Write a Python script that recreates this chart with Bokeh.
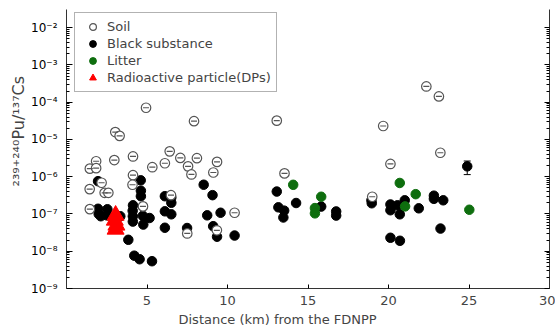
from bokeh.plotting import figure
from bokeh.models import (Range1d, LogAxis, FixedTicker, CustomJSTickFormatter, Legend,
                          LegendItem, Title, Whisker, ColumnDataSource, TeeHead)
from bokeh.embed import file_html
from bokeh.resources import INLINE

# ---- data (distance km, 239+240Pu/137Cs ratio) ----
soil_x = [4.94, 7.92, 13.06, 3.03, 3.30, 4.13, 2.97, 1.84, 1.45, 1.84,
          6.41, 7.07, 8.10, 6.11, 5.33, 7.55, 9.35, 9.12, 7.76, 4.13,
          4.10, 13.54, 2.18, 1.44, 2.37, 2.60, 1.45, 4.75, 10.44, 7.50,
          9.34, 6.49, 22.35, 23.13, 19.67, 23.22, 20.12, 18.99]
soil_y = [7.1e-5, 3.1e-5, 3.2e-5, 1.58e-5, 1.25e-5, 3.5e-6, 2.8e-6, 2.6e-6, 1.65e-6, 1.7e-6,
          4.8e-6, 3.2e-6, 3.15e-6, 2.3e-6, 1.8e-6, 1.9e-6, 2.5e-6, 1.3e-6, 1.15e-6, 1.1e-6,
          6.1e-7, 1.23e-6, 6.9e-7, 4.65e-7, 3.7e-7, 3.7e-7, 1.35e-7, 1.6e-7, 1.08e-7, 3.0e-8,
          3.65e-8, 3.2e-7, 2.65e-4, 1.43e-4, 2.3e-5, 4.4e-6, 2.2e-6, 2.9e-7]

black_x = [1.96, 1.96, 2.00, 2.13, 2.54, 2.50, 3.34, 3.84, 4.21, 4.54,
           5.31, 4.13, 4.11, 4.12, 4.12, 4.61, 4.62, 4.62, 4.74, 5.16,
           4.77, 6.11, 6.51, 6.51, 6.11, 6.51, 6.11, 7.49, 8.52, 9.07,
           8.74, 9.57, 9.11, 9.35, 10.44, 13.06, 13.16, 13.52, 13.47, 14.26,
           15.82, 16.75, 16.75, 18.94, 18.96, 20.12, 20.12, 20.56, 20.70, 21.01,
           21.88, 22.82, 22.82, 23.40, 23.23, 20.12, 20.71, 24.89]
black_y = [7.6e-7, 1.38e-7, 1.0e-7, 8.7e-8, 1.34e-7, 9.2e-8, 8.7e-8, 2.03e-8, 7.6e-9, 6.1e-9,
           5.4e-9, 1.71e-7, 1.22e-7, 8.7e-8, 6.25e-8, 8.0e-7, 4.2e-7, 3.0e-7, 8.95e-8, 7.8e-8,
           5.2e-8, 3.0e-7, 2.77e-7, 2.0e-7, 1.18e-7, 9.8e-8, 4.27e-8, 4.2e-8, 6.1e-7, 3.2e-7,
           9.2e-8, 1.08e-7, 4.7e-8, 2.45e-8, 2.64e-8, 4.0e-7, 1.51e-7, 1.23e-7, 8.05e-8, 1.97e-7,
           1.58e-7, 1.17e-7, 9.05e-8, 2.33e-7, 1.94e-7, 1.8e-7, 1.26e-7, 1.71e-7, 9.8e-8, 2.33e-7,
           1.42e-7, 3.1e-7, 2.55e-7, 2.33e-7, 4.06e-8, 2.3e-8, 1.91e-8, 1.9e-6]

litter_x = [14.08, 15.82, 15.43, 15.43, 20.70, 21.69, 21.03, 25.02]
litter_y = [6.07e-7, 2.9e-7, 1.44e-7, 1.04e-7, 6.8e-7, 3.4e-7, 1.6e-7, 1.3e-7]

dp_x = [3.05, 3.00, 3.10, 3.05]
dp_y = [9.2e-8, 6.8e-8, 5.0e-8, 3.9e-8]

err_x = [24.89]
err_lo = [1.14e-6]
err_hi = [2.64e-6]

x_ticks = [5, 10, 15, 20, 25, 30]
y_ticks = [1e-9, 1e-8, 1e-7, 1e-6, 1e-5, 1e-4, 1e-3, 1e-2]
y_minor = [k * t for t in y_ticks[:-1] for k in range(2, 10)]

FONT = "DejaVu Sans"

p = figure(width=555, height=329, x_range=Range1d(0, 30), y_range=Range1d(1e-9, 3.08e-2),
           y_axis_type="log", output_backend="svg", toolbar_location=None,
           min_border_left=66, min_border_right=6, min_border_top=9, min_border_bottom=41)
p.outline_line_color = None
p.grid.visible = False
p.background_fill_color = "white"
p.border_fill_color = "white"

sup_code = """
const sup = {"-":"\u207b","0":"\u2070","1":"\u00b9","2":"\u00b2","3":"\u00b3","4":"\u2074",
             "5":"\u2075","6":"\u2076","7":"\u2077","8":"\u2078","9":"\u2079"};
const e = Math.round(Math.log10(tick));
return "10" + String(e).split("").map(c => sup[c]).join("");
"""

ya = p.yaxis[0]
ya.ticker = FixedTicker(ticks=y_ticks, minor_ticks=y_minor)
ya.formatter = CustomJSTickFormatter(code=sup_code)
ya.major_tick_in = 6
ya.major_tick_out = 0
ya.minor_tick_in = 3
ya.minor_tick_out = 0
ya.major_label_standoff = 9
ya.major_label_text_font = FONT
ya.major_label_text_font_size = "12px"
ya.major_label_text_color = "black"
ya.axis_line_color = "#333333"

ra = LogAxis(ticker=FixedTicker(ticks=y_ticks, minor_ticks=y_minor),
             formatter=CustomJSTickFormatter(code="return ''"))
ra.major_tick_in = 5
ra.major_tick_out = 0
ra.minor_tick_in = 3
ra.minor_tick_out = 0
ra.major_label_standoff = 0
ra.axis_line_color = "#333333"
p.add_layout(ra, "right")

xa = p.xaxis[0]
xa.ticker = FixedTicker(ticks=x_ticks, minor_ticks=[])
xa.major_tick_in = 4
xa.major_tick_out = 0
xa.minor_tick_in = 0
xa.minor_tick_out = 0
xa.major_label_standoff = 7
xa.major_label_text_font = FONT
xa.major_label_text_font_size = "13px"
xa.axis_line_color = "#333333"

p.add_layout(Title(text="Distance (km) from the FDNPP", align="left", offset=112,
                   text_font=FONT, text_font_size="13px", text_font_style="normal",
                   standoff=5), "below")
p.add_layout(Title(text="\u00b2\u00b3\u2079\u207a\u00b2\u2074\u2070Pu/\u00b9\u00b3\u2077Cs",
                   align="left", offset=102,
                   text_font=FONT, text_font_size="16px", text_font_style="normal",
                   standoff=2), "left")

r_black = p.scatter(black_x, black_y, marker="circle", size=9.5, fill_color="black",
                    line_color="black")
r_soil = p.scatter(soil_x, soil_y, marker="circle", size=9.5, fill_color="white",
                   line_color="#555555", line_width=1.2)
p.scatter(soil_x, soil_y, marker="dash", size=6, line_color="#555555", line_width=1.2)
r_litter = p.scatter(litter_x, litter_y, marker="circle", size=9.5, fill_color="#0e6e0e",
                     line_color="#0e6e0e")
r_dp = p.scatter(dp_x, dp_y, marker="triangle", size=17, fill_color="red", line_color="red")

src = ColumnDataSource(dict(x=err_x, lo=err_lo, hi=err_hi))
p.add_layout(Whisker(base="x", lower="lo", upper="hi", source=src, dimension="height",
                     line_color="black", line_width=1,
                     upper_head=TeeHead(size=7, line_color="black", line_width=1),
                     lower_head=TeeHead(size=7, line_color="black", line_width=1)))

legend = Legend(items=[LegendItem(label="Soil", renderers=[r_soil]),
                       LegendItem(label="Black substance", renderers=[r_black]),
                       LegendItem(label="Litter", renderers=[r_litter]),
                       LegendItem(label="Radioactive particle(DPs)", renderers=[r_dp])],
                location=(8, 196), margin=0, padding=5, spacing=0,
                glyph_height=17, glyph_width=25, label_height=17, label_standoff=2,
                label_text_font=FONT, label_text_font_size="13px",
                border_line_color="#666666", border_line_width=1,
                background_fill_color="white", background_fill_alpha=1)
p.add_layout(legend)

open("out.html", "w").write(file_html(p, INLINE))
